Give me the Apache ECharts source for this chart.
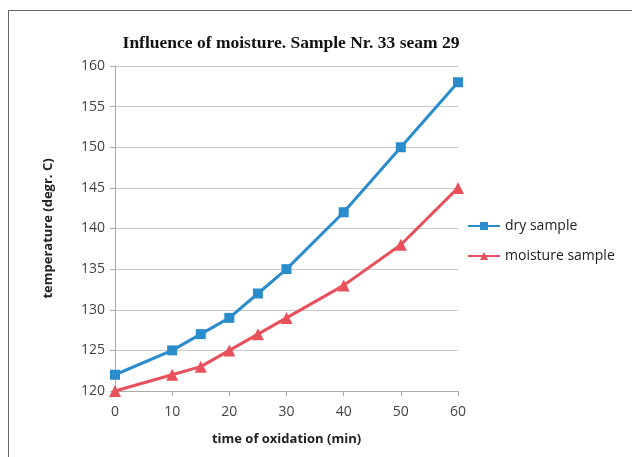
<!DOCTYPE html>
<html><head><meta charset="utf-8">
<script src="https://cdn.jsdelivr.net/npm/echarts@6/dist/echarts.min.js"></script>
<style>
html,body{margin:0;padding:0;background:#fff;}
#frame{position:absolute;left:8px;top:10px;width:640px;height:460px;border:1px solid #666;box-sizing:border-box;}
#c{position:absolute;left:0;top:0;width:632px;height:457px;}
</style></head>
<body>
<div id="frame"></div>
<div id="c"></div>
<script>
const times = [0, 10, 15, 20, 25, 30, 40, 50, 60];
const drySample = [122, 125, 127, 129, 132, 135, 142, 150, 158];
const moistureSample = [120, 122, 123, 125, 127, 129, 133, 138, 145];
const seriesNames = ['dry sample', 'moisture sample'];

const chart = echarts.init(document.getElementById('c'));
chart.setOption({
  animation: false,
  title: {
    text: 'Influence of moisture. Sample Nr. 33 seam 29',
    left: 286, top: 29, textAlign: 'center',
    textStyle: {fontFamily: 'Liberation Serif', fontWeight: 'bold', fontSize: 17.5, color: '#111'}
  },
  legend: {
    orient: 'vertical', left: 462, top: 214, itemGap: 16,
    itemWidth: 32, itemHeight: 10,
    textStyle: {fontFamily: 'Open Sans', fontSize: 14, color: '#222'},
    data: seriesNames
  },
  grid: {left: 115, right: 174, top: 66, bottom: 66},
  xAxis: {
    type: 'value', min: 0, max: 60, interval: 10,
    name: 'time of oxidation (min)', nameLocation: 'middle', nameGap: 42,
    nameTextStyle: {fontFamily: 'Open Sans', fontWeight: 'bold', fontSize: 13, color: '#222'},
    axisLine: {show: true, lineStyle: {color: '#aaa'}},
    axisTick: {show: true, length: 5, lineStyle: {color: '#aaa'}},
    axisLabel: {fontFamily: 'Open Sans', fontSize: 14, color: '#444', margin: 14},
    splitLine: {show: false}
  },
  yAxis: {
    type: 'value', min: 120, max: 160, interval: 5,
    name: 'temperature (degr. C)', nameLocation: 'middle', nameGap: 60, nameRotate: 90,
    nameTextStyle: {fontFamily: 'Open Sans', fontWeight: 'bold', fontSize: 13, color: '#222'},
    axisLine: {show: true, lineStyle: {color: '#aaa'}},
    axisTick: {show: true, length: 5, lineStyle: {color: '#aaa'}},
    axisLabel: {fontFamily: 'Open Sans', fontSize: 14, color: '#444', margin: 10},
    splitLine: {show: true, lineStyle: {color: '#c8c8c8'}}
  },
  series: [
    {
      name: seriesNames[0], type: 'line',
      data: times.map((t, i) => [t, drySample[i]]),
      symbol: 'rect', symbolSize: 10,
      lineStyle: {color: '#2a8ccc', width: 3},
      itemStyle: {color: '#2a8ccc'}
    },
    {
      name: seriesNames[1], type: 'line',
      data: times.map((t, i) => [t, moistureSample[i]]),
      symbol: 'triangle', symbolSize: 12,
      lineStyle: {color: '#e8505b', width: 3},
      itemStyle: {color: '#e8505b'}
    }
  ]
});
</script>
</body></html>
